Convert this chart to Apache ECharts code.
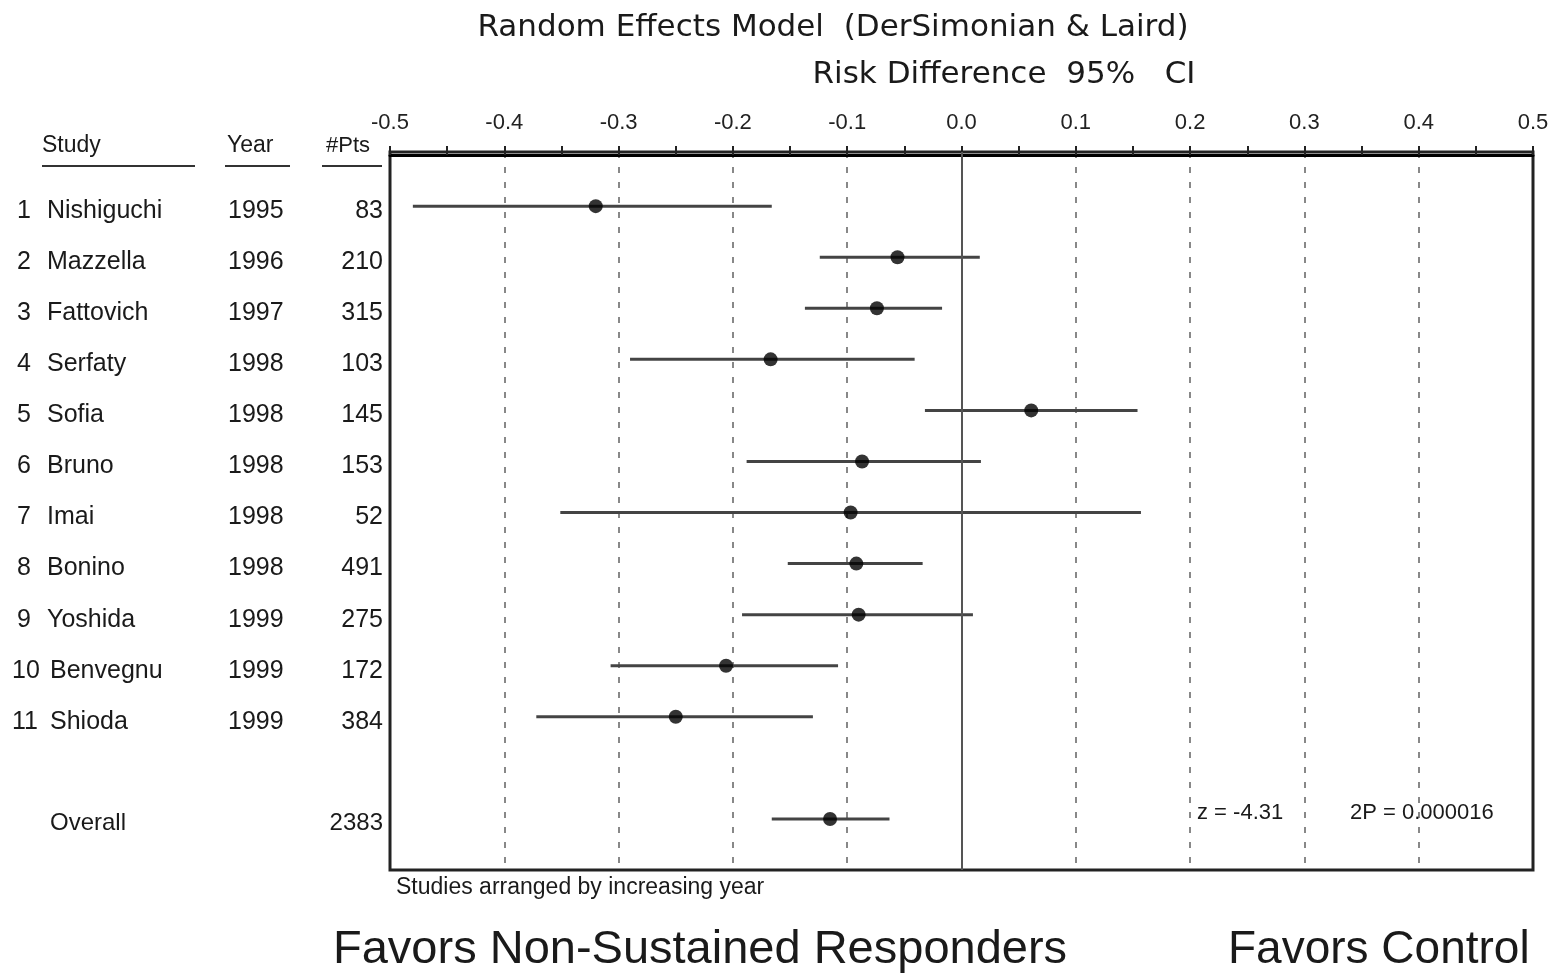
<!DOCTYPE html>
<html>
<head>
<meta charset="utf-8">
<script src="https://cdn.jsdelivr.net/npm/echarts@6/dist/echarts.min.js"></script>
<style>
  html, body { margin: 0; padding: 0; background: #fff; }
  #chart { width: 1553px; height: 980px; }
</style>
</head>
<body>
<div id="chart"></div>
<script>
// study data (risk difference, 95% CI)
const studies = ['Nishiguchi', 'Mazzella', 'Fattovich', 'Serfaty', 'Sofia', 'Bruno', 'Imai', 'Bonino', 'Yoshida', 'Benvegnu', 'Shioda']
const years = ['1995', '1996', '1997', '1998', '1998', '1998', '1998', '1998', '1999', '1999', '1999']
const pts = ['83', '210', '315', '103', '145', '153', '52', '491', '275', '172', '384']
const rd = [-0.32, -0.056, -0.074, -0.167, 0.061, -0.087, -0.097, -0.092, -0.090, -0.206, -0.25]
const ciLow = [-0.48, -0.124, -0.137, -0.290, -0.032, -0.188, -0.351, -0.152, -0.192, -0.307, -0.372]
const ciHigh = [-0.166, 0.016, -0.017, -0.041, 0.154, 0.017, 0.157, -0.034, 0.010, -0.108, -0.130]

// overall (row 13)
const overallPts = '2383'
const overallRd = -0.115
const overallLow = -0.166
const overallHigh = -0.063
const zText = 'z = -4.31'
const pText = '2P = 0.000016'

const xTicks = [-0.5, -0.4, -0.3, -0.2, -0.1, 0.0, 0.1, 0.2, 0.3, 0.4, 0.5]

const chart = echarts.init(document.getElementById('chart'))

// rows: study i at y = i+1, overall at y = 13
const rows = studies.map((s, i) => ({ y: i + 1, rd: rd[i], lo: ciLow[i], hi: ciHigh[i] }))
rows.push({ y: 13, rd: overallRd, lo: overallLow, hi: overallHigh })

const option = {
  animation: false,
  backgroundColor: '#fff',
  grid: {
    left: 390,
    right: 20,
    top: 152,
    bottom: 110,
    show: true,
    borderColor: '#222',
    borderWidth: 3
  },
  xAxis: {
    type: 'value',
    position: 'top',
    min: -0.5,
    max: 0.5,
    interval: 0.1,
    axisLine: { show: true, lineStyle: { color: '#000', width: 3 } },
    axisTick: { show: true, inside: false, length: 9, lineStyle: { color: '#222', width: 2 } },
    minorTick: { show: true, splitNumber: 2, length: 9, lineStyle: { color: '#222', width: 2 } },
    axisLabel: {
      color: '#222',
      fontFamily: 'Liberation Sans',
      fontSize: 22,
      margin: 18,
      formatter: v => {
        const t = xTicks.find(k => Math.abs(k - v) < 1e-6)
        return t === undefined ? '' : (Math.abs(t) < 1e-9 ? '0.0' : t.toFixed(1))
      }
    },
    splitLine: { show: true, showMinLine: false, showMaxLine: false, lineStyle: { color: '#888', width: 2, type: [6, 9] } }
  },
  yAxis: {
    type: 'value',
    inverse: true,
    min: -0.06,
    max: 14,
    show: false
  },
  series: [
    {
      type: 'custom',
      data: rows.map(r => [r.lo, r.hi, r.y]),
      renderItem: (params, api) => {
        const a = api.coord([api.value(0), api.value(2)])
        const b = api.coord([api.value(1), api.value(2)])
        return {
          type: 'line',
          shape: { x1: a[0], y1: a[1], x2: b[0], y2: b[1] },
          style: { stroke: '#444', lineWidth: 3 }
        }
      },
      z: 3
    },
    {
      type: 'scatter',
      data: rows.map(r => [r.rd, r.y]),
      symbol: 'circle',
      symbolSize: 14,
      itemStyle: { color: '#000' },
      z: 4,
      markLine: {
        silent: true,
        symbol: 'none',
        label: { show: false },
        lineStyle: { color: '#555', width: 2, type: 'solid' },
        data: [{ xAxis: 0 }]
      }
    }
  ]
}

chart.setOption(option)

// table text beside the plot
const txt = (x, y, text, size, align, family) => ({
  type: 'text',
  x: x,
  y: y,
  style: {
    text: text,
    fill: '#1a1a1a',
    font: size + 'px "' + (family || 'Liberation Sans') + '"',
    textAlign: align || 'left',
    textVerticalAlign: 'middle'
  }
})
const line = (x1, x2, y) => ({
  type: 'line',
  shape: { x1: x1, y1: y, x2: x2, y2: y },
  style: { stroke: '#333', lineWidth: 2 }
})

const graphics = [
  txt(833, 28, 'Random Effects Model  (DerSimonian & Laird)', 31, 'center', 'DejaVu Sans'),
  txt(1004, 75, 'Risk Difference  95%   CI', 31, 'center', 'DejaVu Sans'),
  txt(42, 146, 'Study', 23),
  txt(227, 146, 'Year', 23),
  txt(326, 146, '#Pts', 22),
  line(42, 195, 166),
  line(225, 290, 166),
  line(322, 382, 166)
]

studies.forEach((s, i) => {
  const y = chart.convertToPixel({ gridIndex: 0 }, [0, i + 1])[1] + 5
  graphics.push(txt(i < 9 ? 17 : 12, y, String(i + 1), 25))
  graphics.push(txt(i < 9 ? 47 : 50, y, s, 25))
  graphics.push(txt(228, y, years[i], 25))
  graphics.push(txt(383, y, pts[i], 25, 'right'))
})

const yo = chart.convertToPixel({ gridIndex: 0 }, [0, 13])[1]
graphics.push(txt(50, yo + 4, 'Overall', 24))
graphics.push(txt(383, yo + 4, overallPts, 24, 'right'))
graphics.push(txt(1197, yo - 6, zText, 22))
graphics.push(txt(1350, yo - 6, pText, 22))

graphics.push(txt(396, 888, 'Studies arranged by increasing year', 23))
graphics.push(txt(333, 950, 'Favors Non-Sustained Responders', 47))
graphics.push(txt(1228, 950, 'Favors Control', 46))

chart.setOption({ graphic: graphics })

window.addEventListener('resize', () => chart.resize())
</script>
</body>
</html>
